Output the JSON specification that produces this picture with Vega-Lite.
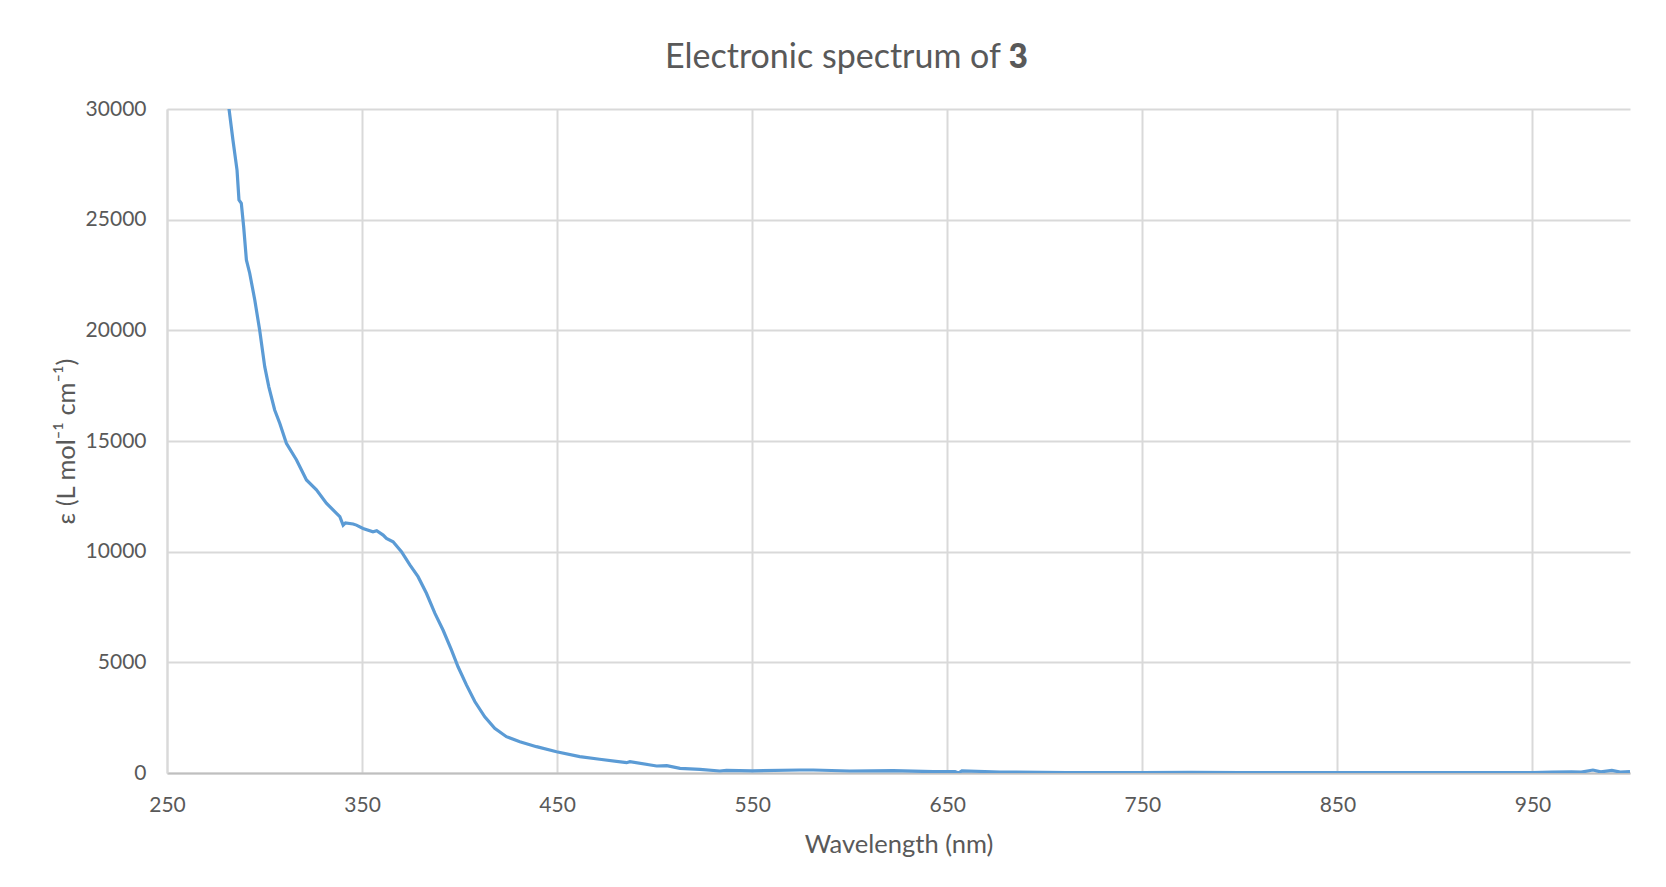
{
  "$schema": "https://vega.github.io/schema/vega-lite/v6.json",
  "autosize": {"type": "none"},
  "width": 1463,
  "height": 664,
  "padding": {"left": 167, "top": 109, "right": 36, "bottom": 114},
  "background": "white",
  "title": {
    "text": "Electronic spectrum of 𝟑",
    "font": "Lato, DejaVu Sans",
    "fontSize": 34,
    "fontWeight": "normal",
    "color": "#595959",
    "anchor": "middle",
    "dx": -52,
    "dy": 46,
    "baseline": "alphabetic",
    "offset": 42
  },
  "config": {
    "view": {"stroke": null},
    "font": "Lato"
  },
  "data": {
    "values": [
      {"wavelength": 280, "epsilon": 31000},
      {"wavelength": 281.8, "epsilon": 30000},
      {"wavelength": 283.8, "epsilon": 28600},
      {"wavelength": 285.9, "epsilon": 27240},
      {"wavelength": 286.9, "epsilon": 25890},
      {"wavelength": 288.1, "epsilon": 25740},
      {"wavelength": 289.3, "epsilon": 24680},
      {"wavelength": 290.7, "epsilon": 23180},
      {"wavelength": 292.4, "epsilon": 22580},
      {"wavelength": 295, "epsilon": 21370},
      {"wavelength": 297.5, "epsilon": 20010},
      {"wavelength": 300.1, "epsilon": 18360},
      {"wavelength": 302.2, "epsilon": 17450},
      {"wavelength": 305.2, "epsilon": 16400},
      {"wavelength": 307.8, "epsilon": 15800},
      {"wavelength": 311.2, "epsilon": 14900},
      {"wavelength": 316.4, "epsilon": 14140},
      {"wavelength": 321.5, "epsilon": 13240},
      {"wavelength": 326.6, "epsilon": 12790},
      {"wavelength": 331.7, "epsilon": 12190},
      {"wavelength": 336.9, "epsilon": 11730},
      {"wavelength": 338.6, "epsilon": 11580},
      {"wavelength": 340.3, "epsilon": 11200},
      {"wavelength": 341.5, "epsilon": 11300},
      {"wavelength": 345.4, "epsilon": 11250},
      {"wavelength": 347.1, "epsilon": 11200},
      {"wavelength": 350.5, "epsilon": 11050},
      {"wavelength": 355.6, "epsilon": 10900},
      {"wavelength": 357.5, "epsilon": 10950},
      {"wavelength": 360.8, "epsilon": 10750},
      {"wavelength": 362.5, "epsilon": 10600},
      {"wavelength": 365.9, "epsilon": 10450},
      {"wavelength": 370.2, "epsilon": 10000},
      {"wavelength": 374.5, "epsilon": 9400},
      {"wavelength": 378.7, "epsilon": 8870},
      {"wavelength": 383, "epsilon": 8120},
      {"wavelength": 387.3, "epsilon": 7220},
      {"wavelength": 391.5, "epsilon": 6460},
      {"wavelength": 395.8, "epsilon": 5560},
      {"wavelength": 399.2, "epsilon": 4800},
      {"wavelength": 403.5, "epsilon": 3980},
      {"wavelength": 407.8, "epsilon": 3230},
      {"wavelength": 412.9, "epsilon": 2540},
      {"wavelength": 418, "epsilon": 2020},
      {"wavelength": 424, "epsilon": 1640},
      {"wavelength": 430.9, "epsilon": 1410},
      {"wavelength": 439.4, "epsilon": 1190},
      {"wavelength": 449.7, "epsilon": 960},
      {"wavelength": 461.6, "epsilon": 740},
      {"wavelength": 471.8, "epsilon": 620},
      {"wavelength": 485.6, "epsilon": 465},
      {"wavelength": 487.3, "epsilon": 510},
      {"wavelength": 501, "epsilon": 316},
      {"wavelength": 506.2, "epsilon": 330},
      {"wavelength": 513, "epsilon": 210},
      {"wavelength": 523.2, "epsilon": 165},
      {"wavelength": 533.4, "epsilon": 90},
      {"wavelength": 536.8, "epsilon": 120},
      {"wavelength": 550, "epsilon": 100},
      {"wavelength": 574.4, "epsilon": 135},
      {"wavelength": 581.3, "epsilon": 135},
      {"wavelength": 600, "epsilon": 90},
      {"wavelength": 622.3, "epsilon": 105},
      {"wavelength": 642.8, "epsilon": 60},
      {"wavelength": 654, "epsilon": 60},
      {"wavelength": 655.7, "epsilon": 0},
      {"wavelength": 657.5, "epsilon": 100},
      {"wavelength": 677, "epsilon": 45},
      {"wavelength": 711, "epsilon": 15},
      {"wavelength": 728, "epsilon": 15},
      {"wavelength": 750, "epsilon": 20},
      {"wavelength": 775, "epsilon": 25},
      {"wavelength": 800, "epsilon": 15},
      {"wavelength": 825, "epsilon": 20},
      {"wavelength": 850, "epsilon": 15},
      {"wavelength": 875, "epsilon": 20},
      {"wavelength": 900, "epsilon": 15},
      {"wavelength": 925, "epsilon": 20},
      {"wavelength": 950, "epsilon": 15},
      {"wavelength": 960, "epsilon": 40},
      {"wavelength": 970, "epsilon": 50},
      {"wavelength": 975, "epsilon": 40},
      {"wavelength": 981, "epsilon": 135},
      {"wavelength": 985, "epsilon": 50},
      {"wavelength": 990.7, "epsilon": 120},
      {"wavelength": 995, "epsilon": 40},
      {"wavelength": 1000, "epsilon": 60}
    ]
  },
  "mark": {"type": "line", "color": "#5b9bd5", "strokeWidth": 3.2, "clip": true},
  "encoding": {
    "x": {
      "field": "wavelength",
      "type": "quantitative",
      "scale": {"domain": [250, 1000], "nice": false, "zero": false},
      "axis": {
        "values": [250, 350, 450, 550, 650, 750, 850, 950],
        "title": "Wavelength (nm)",
        "titleFont": "Lato",
        "titleFontSize": 25.5,
        "titleFontWeight": "normal",
        "titleColor": "#595959",
        "titlePadding": 17,
        "labelFont": "Lato",
        "labelFontSize": 21,
        "labelColor": "#595959",
        "labelPadding": 21,
        "labelFlush": false,
        "labelOverlap": false,
        "ticks": false,
        "domainColor": "#bfbfbf",
        "domainWidth": 2,
        "grid": true,
        "gridColor": "#d9d9d9",
        "gridWidth": 2
      }
    },
    "y": {
      "field": "epsilon",
      "type": "quantitative",
      "scale": {"domain": [0, 30000], "nice": false},
      "axis": {
        "values": [0, 5000, 10000, 15000, 20000, 25000, 30000],
        "format": "d",
        "title": "ε (L mol⁻¹ cm⁻¹)",
        "titleFont": "Lato",
        "titleFontSize": 25.5,
        "titleFontWeight": "normal",
        "titleColor": "#595959",
        "titlePadding": 6,
        "labelFont": "Lato",
        "labelFontSize": 21,
        "labelColor": "#595959",
        "labelPadding": 21,
        "labelFlush": false,
        "labelOverlap": false,
        "ticks": false,
        "domainColor": "#d9d9d9",
        "domainWidth": 2,
        "grid": true,
        "gridColor": "#d9d9d9",
        "gridWidth": 2
      }
    }
  }
}
